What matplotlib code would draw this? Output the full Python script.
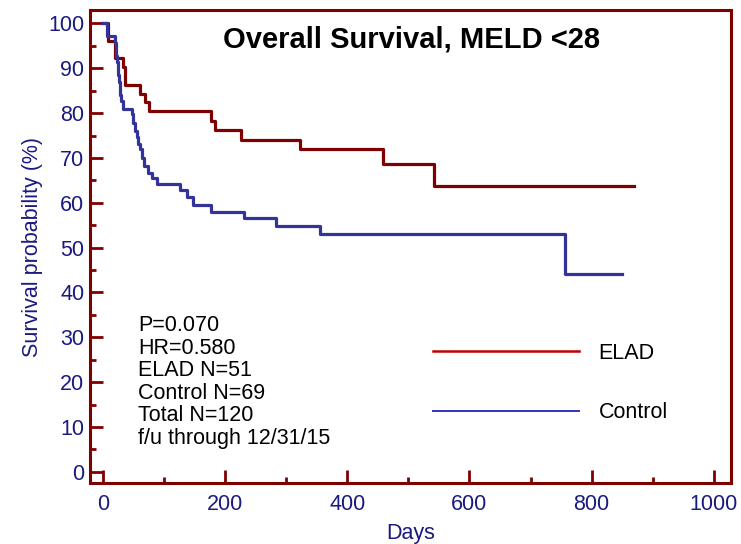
import numpy as np
import matplotlib
matplotlib.use("Agg")
import matplotlib.pyplot as plt
from matplotlib.lines import Line2D
from matplotlib.ticker import MultipleLocator

plt.rcParams['font.family'] = ['Liberation Sans', 'DejaVu Sans']

# ---- Kaplan-Meier steps (days, survival %)
elad_days = [0, 9, 20, 33, 36, 60, 69, 76, 177, 184, 226, 322, 458, 542, 869]
elad_surv = [100, 96.1, 92.2, 90.2, 86.3, 84.3, 82.4, 80.4, 78.3, 76.2, 74.1, 71.9, 68.7, 63.8, 63.8]

ctrl_days = [0, 7, 20, 21, 22, 23, 24, 25, 26, 28, 30, 33, 47, 50, 52, 56, 58, 61, 64,
             68, 74, 80, 88, 127, 137, 148, 177, 231, 284, 356, 756, 850]
ctrl_surv = [100, 97.1, 95.7, 94.2, 92.8, 91.3, 89.9, 88.4, 87.0, 84.1, 82.6, 80.9, 79.7,
             77.9, 76.1, 74.6, 73.2, 71.9, 70.0, 68.2, 66.7, 65.5, 64.2, 62.8, 61.2, 59.4,
             58.0, 56.6, 54.9, 53.1, 44.2, 44.2]

stats_lines = ["P=0.070", "HR=0.580", "ELAD N=51", "Control N=69", "Total N=120",
               "f/u through 12/31/15"]
title = "Overall Survival, MELD <28"

maroon = "#800000"
navy = "#1a1a80"

fig = plt.figure(figsize=(7.41, 5.44), dpi=100)
ax = fig.add_axes([0.1215, 0.1121, 0.865, 0.8695])

ax.plot(elad_days, elad_surv, drawstyle="steps-post", color="#7f0000", lw=2.3)
ax.plot(ctrl_days, ctrl_surv, drawstyle="steps-post", color="#333399", lw=2.3)

ax.set_xlim(-21, 1028)
ax.set_ylim(-2.5, 103)
ax.xaxis.set_major_locator(MultipleLocator(200))
ax.xaxis.set_minor_locator(MultipleLocator(100))
ax.yaxis.set_major_locator(MultipleLocator(10))
ax.yaxis.set_minor_locator(MultipleLocator(5))

for s in ax.spines.values():
    s.set_color(maroon)
    s.set_linewidth(2.2)

ax.tick_params(which="both", direction="in", color=maroon, width=2.0,
               labelcolor=navy, labelsize=15.5)
ax.tick_params(which="major", length=9.5)
ax.tick_params(which="minor", length=4.3)
ax.tick_params(axis="y", pad=4)
ax.tick_params(axis="x", pad=8)

ax.set_xlabel("Days", color=navy, fontsize=15.5, labelpad=6)
ax.set_ylabel("Survival probability (%)", color=navy, fontsize=15.5, labelpad=4)

ax.text(0.502, 0.937, title, transform=ax.transAxes, ha="center", va="center",
        fontsize=21, fontweight="bold", color="black")

ax.text(0.075, 0.355, "\n".join(stats_lines), transform=ax.transAxes, ha="left", va="top",
        fontsize=15.5, linespacing=1.1, color="black")

handles = [Line2D([], [], color="#c00000", lw=1.8), Line2D([], [], color="#3333bb", lw=1.4)]
ax.legend(handles, ["ELAD", "Control"], loc="upper left", bbox_to_anchor=(0.535, 0.297),
          frameon=False, fontsize=15.5, handlelength=6.8, handletextpad=0.9,
          labelspacing=1.8, borderpad=0, borderaxespad=0)

fig.savefig("out.png", dpi=100)
